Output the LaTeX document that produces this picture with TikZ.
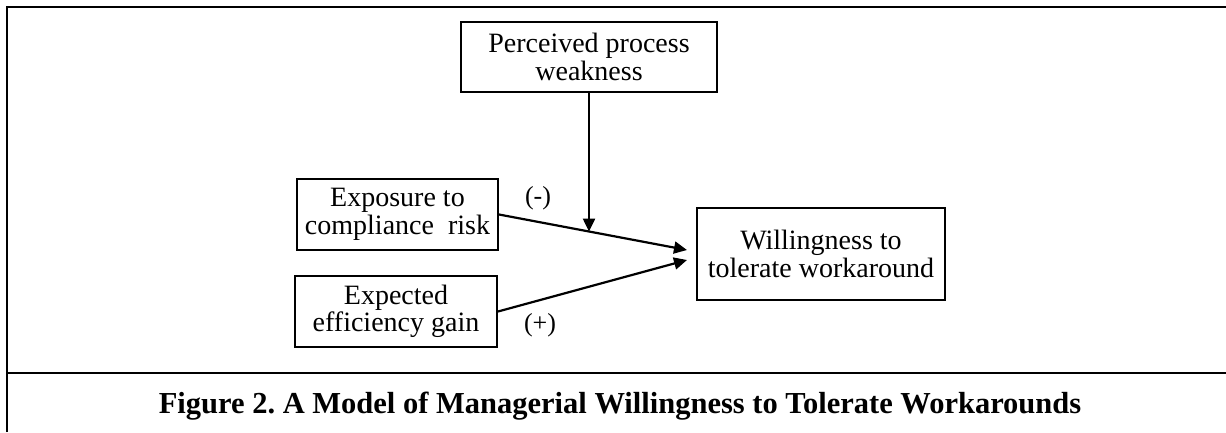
\documentclass[tikz,border=0pt]{standalone}
\usepackage{fontspec}
\setmainfont{Liberation Serif}
\usetikzlibrary{arrows.meta,positioning,calc}
\frenchspacing

\begin{document}
\begin{tikzpicture}[
    x=1pt,y=-1pt,
    box/.style={draw,line width=2pt,align=center,inner sep=0pt,
      font=\fontsize{28}{27.5}\selectfont},
    sign/.style={font=\fontsize{26}{28}\selectfont},
    arr/.style={->,line width=2.2pt},
    >={Triangle[length=13pt,width=12pt]}
  ]
  \useasboundingbox (0,0) rectangle (1226,432);
  % Frame
  \draw[line width=2.8pt] (7,432) -- (7,7) -- (1226,7);
  \draw[line width=2.8pt] (7,373) -- (1226,373);
  % Factors
  \node[box,minimum width=256pt,minimum height=70pt] (perc) at (589,57) {Perceived process\\weakness};
  \node[box,minimum width=201pt,minimum height=71pt] (expo) at (397.5,214.5) {Exposure to\\compliance\hspace{0.25em} risk};
  \node[box,minimum width=202pt,minimum height=71pt] (gain) at (396,311.5) {Expected\\efficiency gain};
  % Outcome
  \node[box,minimum width=248pt,minimum height=92pt] (will) at (821,254) {Willingness to\\tolerate workaround};
  % Arrow ends
  \coordinate (inA) at (687,250);
  \coordinate (inB) at (687,260);
  \coordinate (meet) at ($(expo.east)!0.481!(inA)$);
  % Effects
  \draw[arr] (expo.east) -- (inA);
  \draw[arr] (gain.east) -- (inB);
  % Moderator
  \draw[arr] (perc.south) -- (perc.south |- meet);
  % Signs
  \node[sign] (neg) at (538,198) {(-)};
  \node[sign] (pos) at (540,325) {(+)};
  % Caption
  \node[anchor=base,font=\fontsize{30.5}{32}\selectfont\bfseries] (cap) at (620,413)
    {Figure 2. A Model of Managerial Willingness to Tolerate Workarounds};
\end{tikzpicture}
\end{document}
